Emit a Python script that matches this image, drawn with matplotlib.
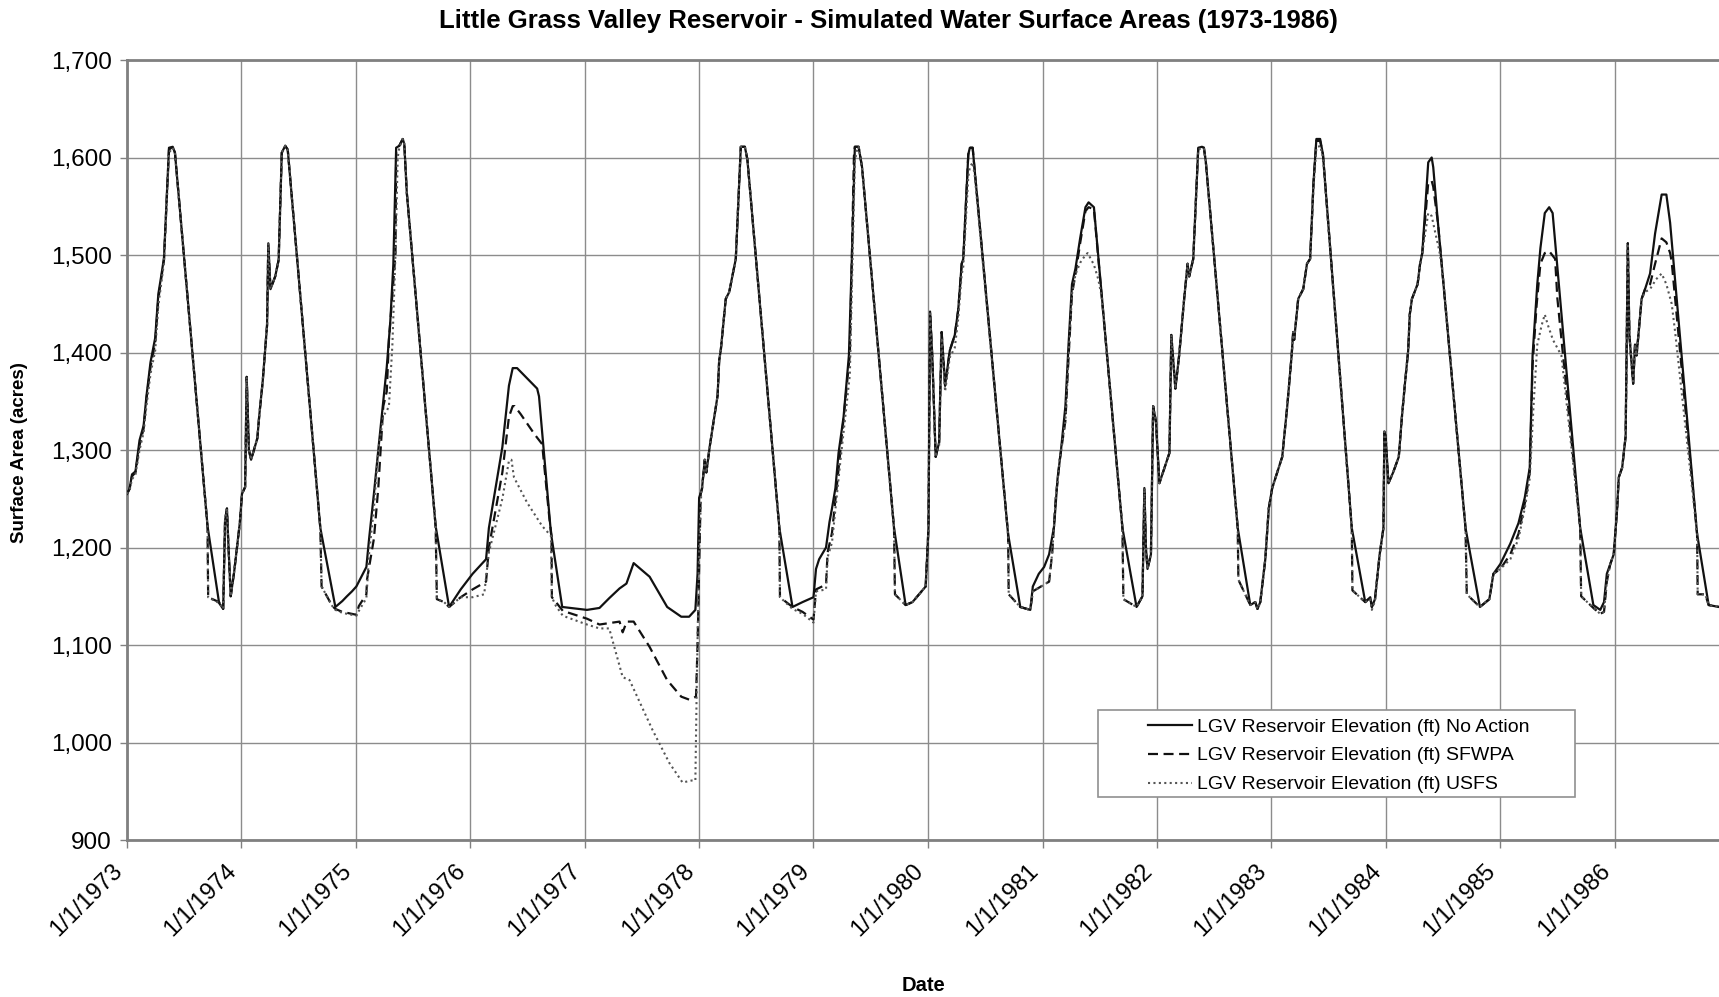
import matplotlib
matplotlib.use("Agg")
import matplotlib.pyplot as plt
from matplotlib.patches import Rectangle
from matplotlib.ticker import FuncFormatter
import pandas as pd

plt.rcParams['font.family'] = ['Liberation Sans', 'DejaVu Sans']

TITLE = "Little Grass Valley Reservoir - Simulated Water Surface Areas (1973-1986)"
Y_LABEL = "Surface Area (acres)"
X_LABEL = "Date"
SERIES_NAMES = ["LGV Reservoir Elevation (ft) No Action",
                "LGV Reservoir Elevation (ft) SFWPA",
                "LGV Reservoir Elevation (ft) USFS"]
YEARS = list(range(1973, 1987))
Y_TICKS = [900, 1000, 1100, 1200, 1300, 1400, 1500, 1600, 1700]

# ---------------- No Action ----------------
na_dates = [
    "1973-01-01", "1973-01-09", "1973-01-17", "1973-01-28", "1973-02-10", "1973-02-23", "1973-03-04",
    "1973-03-17", "1973-04-01", "1973-04-11", "1973-04-20", "1973-04-29", "1973-05-15", "1973-05-27",
    "1973-06-03", "1973-09-15", "1973-10-22", "1973-11-04", "1973-11-10", "1973-11-16", "1973-11-19",
    "1973-11-28", "1973-12-09", "1973-12-27",
    "1974-01-03", "1974-01-13", "1974-01-18", "1974-01-25", "1974-02-01", "1974-02-21", "1974-02-27",
    "1974-03-10", "1974-03-24", "1974-03-28", "1974-04-04", "1974-04-19", "1974-04-30", "1974-05-10",
    "1974-05-21", "1974-05-29", "1974-09-10", "1974-10-28", "1974-11-19", "1974-12-04", "1974-12-20",
    "1975-01-03", "1975-01-11", "1975-02-04", "1975-02-13", "1975-02-28", "1975-03-14", "1975-03-30",
    "1975-04-10", "1975-04-21", "1975-05-01", "1975-05-10", "1975-05-20", "1975-05-31", "1975-06-05",
    "1975-06-13", "1975-09-13", "1975-10-26", "1975-12-02",
    "1976-01-09", "1976-02-21", "1976-03-01", "1976-04-13", "1976-05-04", "1976-05-16", "1976-05-30",
    "1976-08-02", "1976-08-08", "1976-09-15", "1976-10-21",
    "1977-01-08", "1977-02-17", "1977-03-20", "1977-04-22", "1977-05-14", "1977-06-06", "1977-07-27",
    "1977-09-21", "1977-11-05", "1977-11-30", "1977-12-20", "1977-12-27",
    "1978-01-01", "1978-01-10", "1978-01-19", "1978-01-24", "1978-02-04", "1978-03-01", "1978-03-06",
    "1978-03-11", "1978-03-27", "1978-04-07", "1978-04-28", "1978-05-14", "1978-05-27", "1978-06-04",
    "1978-09-14", "1978-10-26", "1978-11-27",
    "1979-01-01", "1979-01-09", "1979-01-19", "1979-02-10", "1979-02-21", "1979-03-01", "1979-03-12",
    "1979-03-22", "1979-04-07", "1979-04-24", "1979-05-04", "1979-05-13", "1979-05-25", "1979-06-05",
    "1979-09-15", "1979-10-22", "1979-11-13", "1979-12-25",
    "1980-01-03", "1980-01-08", "1980-01-15", "1980-01-26", "1980-02-06", "1980-02-14", "1980-02-25",
    "1980-03-11", "1980-03-27", "1980-04-07", "1980-04-18", "1980-04-23", "1980-05-09", "1980-05-14",
    "1980-05-23", "1980-05-30", "1980-09-13", "1980-10-22", "1980-11-23", "1980-12-01", "1980-12-20",
    "1981-01-06", "1981-01-22", "1981-02-07", "1981-02-18", "1981-02-28", "1981-03-15", "1981-03-25",
    "1981-04-05", "1981-04-16", "1981-05-01", "1981-05-18", "1981-05-28", "1981-06-14", "1981-09-13",
    "1981-10-28", "1981-11-11", "1981-11-16", "1981-11-22", "1981-11-27", "1981-12-02", "1981-12-13",
    "1981-12-20", "1981-12-29",
    "1982-01-09", "1982-02-10", "1982-02-16", "1982-03-01", "1982-03-13", "1982-03-29", "1982-04-09",
    "1982-04-14", "1982-04-27", "1982-05-13", "1982-05-25", "1982-05-31", "1982-06-06", "1982-09-16",
    "1982-10-26", "1982-11-11", "1982-11-18", "1982-11-27", "1982-12-13", "1982-12-24",
    "1983-01-04", "1983-01-25", "1983-02-05", "1983-02-21", "1983-03-07", "1983-03-12", "1983-03-15",
    "1983-03-28", "1983-04-13", "1983-04-25", "1983-05-05", "1983-05-16", "1983-05-25", "1983-06-06",
    "1983-06-15", "1983-09-15", "1983-10-28", "1983-11-13", "1983-11-18", "1983-11-28", "1983-12-13",
    "1983-12-25", "1983-12-28",
    "1984-01-01", "1984-01-10", "1984-01-25", "1984-02-12", "1984-02-22", "1984-03-02", "1984-03-13",
    "1984-03-18", "1984-03-25", "1984-04-12", "1984-04-20", "1984-04-27", "1984-05-16", "1984-05-27",
    "1984-06-01", "1984-06-16", "1984-09-12", "1984-10-28", "1984-11-27", "1984-12-10",
    "1985-01-01", "1985-02-02", "1985-02-28", "1985-03-20", "1985-04-05", "1985-04-14", "1985-04-29",
    "1985-05-09", "1985-05-23", "1985-06-06", "1985-06-17", "1985-09-13", "1985-10-25", "1985-11-16",
    "1985-11-28", "1985-12-07", "1985-12-18", "1985-12-29",
    "1986-01-09", "1986-01-14", "1986-01-25", "1986-02-05", "1986-02-12", "1986-02-17", "1986-03-01",
    "1986-03-07", "1986-03-12", "1986-03-28", "1986-04-08", "1986-04-24", "1986-05-10", "1986-05-31",
    "1986-06-15", "1986-06-27", "1986-09-21", "1986-10-28", "1986-11-30",
]
na_vals = [
    1255, 1260, 1275, 1278, 1310, 1325, 1355,
    1390, 1415, 1460, 1478, 1497, 1610, 1611,
    1605, 1222, 1143, 1137, 1228, 1240, 1215,
    1150, 1175, 1225,
    1255, 1262, 1375, 1300, 1290, 1312, 1335,
    1370, 1428, 1512, 1465, 1478, 1495, 1605,
    1612, 1608, 1220, 1139, 1145, 1150, 1155,
    1160, 1165, 1180, 1210, 1255, 1300, 1350,
    1385, 1430, 1490, 1610, 1612, 1619, 1614,
    1564, 1222, 1139, 1157,
    1173, 1188, 1220, 1303, 1366, 1384, 1384,
    1363, 1355, 1215, 1139,
    1136, 1138, 1148, 1158, 1163, 1184, 1170,
    1139, 1129, 1129, 1136, 1173,
    1251, 1260, 1290, 1277, 1304, 1356, 1392,
    1402, 1455, 1462, 1496, 1611, 1611, 1598,
    1220, 1139, 1144,
    1149, 1178, 1188, 1200, 1226, 1240, 1261,
    1297, 1334, 1397, 1502, 1611, 1611, 1590,
    1220, 1141, 1144, 1160,
    1220, 1442, 1397, 1293, 1308, 1421, 1366,
    1402, 1418, 1444, 1491, 1496, 1603, 1610,
    1610, 1585, 1214, 1139, 1136, 1160, 1173,
    1180, 1193, 1222, 1271, 1297, 1345, 1408,
    1470, 1486, 1517, 1549, 1554, 1549, 1220,
    1139, 1147, 1150, 1261, 1200, 1178, 1193,
    1345, 1329,
    1266, 1297, 1418, 1363, 1397, 1455, 1491,
    1478, 1496, 1610, 1611, 1610, 1596, 1220,
    1141, 1144, 1137, 1144, 1188, 1240,
    1261, 1282, 1293, 1345, 1397, 1421, 1413,
    1455, 1465, 1491, 1496, 1575, 1619, 1619,
    1603, 1220, 1144, 1149, 1139, 1147, 1193,
    1220, 1319,
    1314, 1266, 1277, 1293, 1334, 1366, 1402,
    1439, 1455, 1470, 1491, 1502, 1595, 1600,
    1590, 1533, 1220, 1139, 1147, 1173,
    1183, 1204, 1225, 1251, 1282, 1397, 1470,
    1507, 1543, 1549, 1543, 1220, 1141, 1136,
    1144, 1173, 1183, 1193,
    1240, 1272, 1282, 1314, 1512, 1418, 1368,
    1408, 1397, 1455, 1465, 1481, 1522, 1562,
    1562, 1533, 1214, 1141, 1139,
]

# ---------------- SFWPA ----------------
sf_dates = [
    "1973-01-01", "1973-01-09", "1973-01-17", "1973-01-28", "1973-02-10", "1973-02-23", "1973-03-04",
    "1973-03-17", "1973-04-01", "1973-04-11", "1973-04-20", "1973-04-29", "1973-05-15", "1973-05-27",
    "1973-06-03", "1973-09-15", "1973-09-17", "1973-10-22", "1973-11-04", "1973-11-10", "1973-11-16",
    "1973-11-19", "1973-11-28", "1973-12-09", "1973-12-27",
    "1974-01-03", "1974-01-13", "1974-01-18", "1974-01-25", "1974-02-01", "1974-02-21", "1974-02-27",
    "1974-03-10", "1974-03-24", "1974-03-28", "1974-04-04", "1974-04-19", "1974-04-30", "1974-05-10",
    "1974-05-21", "1974-05-29", "1974-09-10", "1974-09-14", "1974-10-18", "1974-10-28", "1974-11-19",
    "1974-12-04",
    "1975-01-03", "1975-01-11", "1975-02-04", "1975-02-06", "1975-02-28", "1975-03-14", "1975-03-30",
    "1975-04-10", "1975-04-17", "1975-05-08", "1975-05-10", "1975-05-20", "1975-05-31", "1975-06-05",
    "1975-06-13", "1975-09-13", "1975-09-17", "1975-10-10", "1975-10-26", "1975-12-02",
    "1976-01-09", "1976-02-21", "1976-03-01", "1976-04-13", "1976-05-04", "1976-05-16", "1976-05-22",
    "1976-06-10", "1976-07-25", "1976-08-18", "1976-09-10", "1976-09-17", "1976-09-18", "1976-10-01",
    "1976-10-23",
    "1977-01-08", "1977-02-17", "1977-04-22", "1977-05-02", "1977-05-15", "1977-06-06", "1977-07-27",
    "1977-09-21", "1977-11-05", "1977-11-30", "1977-12-22", "1977-12-27",
    "1978-01-06", "1978-01-10", "1978-01-19", "1978-01-24", "1978-02-04", "1978-03-01", "1978-03-06",
    "1978-03-11", "1978-03-27", "1978-04-07", "1978-04-28", "1978-05-14", "1978-05-27", "1978-06-04",
    "1978-09-14", "1978-09-16", "1978-10-26", "1978-11-27",
    "1979-01-01", "1979-01-09", "1979-02-10", "1979-02-15", "1979-03-01", "1979-03-26", "1979-04-27",
    "1979-05-10", "1979-05-13", "1979-05-25", "1979-06-05", "1979-09-15", "1979-09-18", "1979-10-22",
    "1979-11-13", "1979-12-25",
    "1980-01-03", "1980-01-08", "1980-01-15", "1980-01-26", "1980-02-06", "1980-02-14", "1980-02-25",
    "1980-03-11", "1980-03-27", "1980-04-07", "1980-04-18", "1980-04-23", "1980-05-09", "1980-05-14",
    "1980-05-23", "1980-05-30", "1980-09-13", "1980-09-15", "1980-10-22", "1980-11-23", "1980-12-01",
    "1981-01-06", "1981-01-22", "1981-02-01", "1981-02-12", "1981-02-25", "1981-03-15", "1981-03-25",
    "1981-04-05", "1981-04-16", "1981-05-01", "1981-05-18", "1981-05-28", "1981-06-14", "1981-09-13",
    "1981-09-16", "1981-10-28", "1981-11-11", "1981-11-16", "1981-11-22", "1981-11-27", "1981-12-02",
    "1981-12-13", "1981-12-20", "1981-12-29",
    "1982-01-09", "1982-02-10", "1982-02-16", "1982-03-01", "1982-03-13", "1982-03-29", "1982-04-09",
    "1982-04-14", "1982-04-27", "1982-05-13", "1982-05-25", "1982-05-31", "1982-06-06", "1982-09-16",
    "1982-09-18", "1982-10-26", "1982-11-11", "1982-11-18", "1982-11-27", "1982-12-13", "1982-12-24",
    "1983-01-04", "1983-01-25", "1983-02-05", "1983-02-21", "1983-03-07", "1983-03-12", "1983-03-15",
    "1983-03-28", "1983-04-13", "1983-04-25", "1983-05-05", "1983-05-16", "1983-05-25", "1983-06-06",
    "1983-06-15", "1983-09-15", "1983-09-17", "1983-10-28", "1983-11-13", "1983-11-18", "1983-11-28",
    "1983-12-13", "1983-12-25", "1983-12-28",
    "1984-01-01", "1984-01-10", "1984-01-25", "1984-02-12", "1984-02-22", "1984-03-02", "1984-03-13",
    "1984-03-18", "1984-03-25", "1984-04-12", "1984-04-20", "1984-04-27", "1984-05-16", "1984-05-27",
    "1984-06-01", "1984-06-16", "1984-09-12", "1984-09-16", "1984-10-28", "1984-11-27", "1984-12-10",
    "1985-01-01", "1985-02-02", "1985-02-28", "1985-03-20", "1985-04-05", "1985-04-14", "1985-04-27",
    "1985-05-09", "1985-05-23", "1985-06-06", "1985-06-25", "1985-07-02", "1985-09-13", "1985-09-16",
    "1985-10-25", "1985-11-16", "1985-11-28", "1985-12-07", "1985-12-18", "1985-12-29",
    "1986-01-09", "1986-01-14", "1986-01-25", "1986-02-05", "1986-02-12", "1986-02-17", "1986-03-01",
    "1986-03-07", "1986-03-12", "1986-03-28", "1986-04-08", "1986-04-24", "1986-05-10", "1986-05-31",
    "1986-06-15", "1986-06-27", "1986-07-02", "1986-09-21", "1986-09-23", "1986-10-17", "1986-10-28",
    "1986-11-30",
]
sf_vals = [
    1255, 1260, 1273, 1277, 1305, 1322, 1352,
    1385, 1410, 1455, 1475, 1495, 1608, 1611,
    1605, 1222, 1149, 1144, 1137, 1228, 1240,
    1215, 1150, 1175, 1225,
    1255, 1262, 1375, 1300, 1290, 1312, 1335,
    1370, 1428, 1512, 1465, 1478, 1495, 1605,
    1612, 1608, 1220, 1160, 1140, 1137, 1134,
    1133,
    1131, 1140, 1152, 1167, 1209, 1261, 1345,
    1360, 1413, 1502, 1606, 1612, 1619, 1614,
    1564, 1222, 1147, 1144, 1139, 1149,
    1157, 1165, 1200, 1277, 1334, 1345, 1345,
    1337, 1316, 1306, 1230, 1212, 1149, 1144,
    1135,
    1127, 1121, 1124, 1113, 1124, 1124, 1098,
    1064, 1047, 1044, 1047, 1100,
    1255, 1260, 1290, 1277, 1304, 1356, 1392,
    1402, 1455, 1462, 1496, 1611, 1611, 1598,
    1220, 1149, 1139, 1134,
    1126, 1157, 1162, 1195, 1215, 1293, 1398,
    1601, 1611, 1611, 1590, 1220, 1152, 1141,
    1144, 1160,
    1220, 1442, 1397, 1293, 1308, 1421, 1366,
    1402, 1418, 1444, 1491, 1496, 1603, 1610,
    1610, 1585, 1214, 1152, 1139, 1136, 1155,
    1162, 1165, 1195, 1250, 1290, 1330, 1395,
    1460, 1480, 1512, 1545, 1549, 1547, 1220,
    1147, 1139, 1147, 1150, 1261, 1200, 1178,
    1193, 1345, 1329,
    1266, 1297, 1418, 1363, 1397, 1455, 1491,
    1478, 1496, 1610, 1611, 1610, 1596, 1220,
    1167, 1141, 1144, 1137, 1144, 1188, 1240,
    1261, 1282, 1293, 1345, 1397, 1421, 1413,
    1455, 1465, 1491, 1496, 1575, 1617, 1617,
    1603, 1220, 1156, 1144, 1149, 1139, 1147,
    1193, 1220, 1319,
    1314, 1266, 1277, 1293, 1334, 1366, 1402,
    1439, 1455, 1470, 1491, 1502, 1574, 1576,
    1570, 1533, 1220, 1152, 1139, 1147, 1173,
    1178, 1193, 1214, 1245, 1277, 1387, 1449,
    1491, 1502, 1504, 1496, 1456, 1220, 1150,
    1138, 1132, 1134, 1165, 1183, 1193,
    1240, 1272, 1282, 1314, 1512, 1418, 1368,
    1408, 1397, 1455, 1465, 1470, 1491, 1517,
    1513, 1502, 1493, 1214, 1152, 1152, 1141,
    1139,
]

# ---------------- USFS ----------------
us_dates = [
    "1973-01-01", "1973-01-09", "1973-01-17", "1973-01-28", "1973-02-10", "1973-02-23", "1973-03-04",
    "1973-03-17", "1973-04-01", "1973-04-11", "1973-04-20", "1973-04-29", "1973-05-15", "1973-05-27",
    "1973-06-03", "1973-09-15", "1973-09-17", "1973-10-22", "1973-11-04", "1973-11-10", "1973-11-16",
    "1973-11-19", "1973-11-28", "1973-12-09", "1973-12-27",
    "1974-01-03", "1974-01-13", "1974-01-18", "1974-01-25", "1974-02-01", "1974-02-21", "1974-02-27",
    "1974-03-10", "1974-03-24", "1974-03-28", "1974-04-04", "1974-04-19", "1974-04-30", "1974-05-10",
    "1974-05-21", "1974-05-29", "1974-09-10", "1974-09-14", "1974-10-18", "1974-10-28", "1974-11-19",
    "1974-12-04",
    "1975-01-03", "1975-01-11", "1975-02-04", "1975-02-13", "1975-02-28", "1975-03-14", "1975-03-30",
    "1975-04-10", "1975-04-17", "1975-04-28", "1975-05-08", "1975-05-15", "1975-05-20", "1975-05-31",
    "1975-06-05", "1975-06-13", "1975-09-13", "1975-09-17", "1975-10-10", "1975-10-26", "1975-12-02",
    "1976-01-09", "1976-02-15", "1976-03-01", "1976-04-13", "1976-05-04", "1976-05-12", "1976-05-20",
    "1976-07-01", "1976-08-18", "1976-09-15", "1976-09-18", "1976-10-01", "1976-10-23",
    "1977-01-08", "1977-02-17", "1977-03-20", "1977-05-02", "1977-05-24", "1977-08-05", "1977-09-28",
    "1977-11-09", "1977-12-08", "1977-12-20", "1977-12-24",
    "1978-01-01", "1978-01-08", "1978-01-10", "1978-01-19", "1978-01-24", "1978-02-04", "1978-03-01",
    "1978-03-06", "1978-03-11", "1978-03-27", "1978-04-07", "1978-04-28", "1978-05-14", "1978-05-27",
    "1978-06-04", "1978-09-14", "1978-09-16", "1978-10-26", "1978-11-27",
    "1979-01-01", "1979-01-09", "1979-02-10", "1979-02-15", "1979-03-01", "1979-03-26", "1979-04-27",
    "1979-05-13", "1979-05-20", "1979-05-25", "1979-06-05", "1979-09-15", "1979-09-18", "1979-10-22",
    "1979-11-13", "1979-12-25",
    "1980-01-03", "1980-01-08", "1980-01-15", "1980-01-26", "1980-02-06", "1980-02-14", "1980-02-25",
    "1980-03-11", "1980-03-27", "1980-04-07", "1980-04-18", "1980-04-23", "1980-05-09", "1980-05-14",
    "1980-05-23", "1980-05-30", "1980-09-13", "1980-09-15", "1980-10-22", "1980-11-23", "1980-12-01",
    "1981-01-06", "1981-01-22", "1981-02-01", "1981-02-12", "1981-02-25", "1981-03-15", "1981-03-25",
    "1981-04-05", "1981-04-16", "1981-05-01", "1981-05-18", "1981-05-25", "1981-06-14", "1981-06-28",
    "1981-07-10", "1981-09-13", "1981-09-16", "1981-10-28", "1981-11-11", "1981-11-16", "1981-11-22",
    "1981-11-27", "1981-12-02", "1981-12-13", "1981-12-20", "1981-12-29",
    "1982-01-09", "1982-02-10", "1982-02-16", "1982-03-01", "1982-03-13", "1982-03-29", "1982-04-09",
    "1982-04-14", "1982-04-27", "1982-05-13", "1982-05-25", "1982-05-31", "1982-06-06", "1982-09-16",
    "1982-09-18", "1982-10-26", "1982-11-11", "1982-11-18", "1982-11-27", "1982-12-13", "1982-12-24",
    "1983-01-04", "1983-01-25", "1983-02-05", "1983-02-21", "1983-03-07", "1983-03-12", "1983-03-15",
    "1983-03-28", "1983-04-13", "1983-04-25", "1983-05-05", "1983-05-16", "1983-05-25", "1983-06-06",
    "1983-06-15", "1983-09-15", "1983-09-17", "1983-10-28", "1983-11-13", "1983-11-18", "1983-11-28",
    "1983-12-13", "1983-12-25", "1983-12-28",
    "1984-01-01", "1984-01-10", "1984-01-25", "1984-02-12", "1984-02-22", "1984-03-02", "1984-03-13",
    "1984-03-18", "1984-03-25", "1984-04-12", "1984-04-20", "1984-04-27", "1984-05-10", "1984-05-16",
    "1984-05-27", "1984-06-08", "1984-06-20", "1984-06-30", "1984-09-12", "1984-09-16", "1984-10-28",
    "1984-11-27", "1984-12-10",
    "1985-01-01", "1985-02-02", "1985-02-28", "1985-03-20", "1985-04-05", "1985-04-17", "1985-04-29",
    "1985-05-13", "1985-05-23", "1985-06-02", "1985-06-18", "1985-07-15", "1985-09-13", "1985-09-16",
    "1985-10-25", "1985-11-16", "1985-11-28", "1985-12-07", "1985-12-18", "1985-12-29",
    "1986-01-09", "1986-01-14", "1986-01-25", "1986-02-05", "1986-02-12", "1986-02-17", "1986-03-01",
    "1986-03-07", "1986-03-12", "1986-03-28", "1986-04-08", "1986-04-24", "1986-05-13", "1986-05-31",
    "1986-06-15", "1986-07-02", "1986-07-13", "1986-09-21", "1986-09-23", "1986-10-17", "1986-10-28",
    "1986-11-30",
]
us_vals = [
    1255, 1258, 1270, 1275, 1300, 1318, 1345,
    1378, 1402, 1448, 1470, 1492, 1605, 1610,
    1604, 1222, 1149, 1143, 1137, 1228, 1240,
    1215, 1150, 1175, 1225,
    1255, 1262, 1375, 1300, 1290, 1312, 1335,
    1370, 1428, 1512, 1465, 1478, 1495, 1605,
    1612, 1608, 1220, 1160, 1140, 1136, 1133,
    1132,
    1130, 1135, 1148, 1195, 1240, 1300, 1335,
    1340, 1345, 1408, 1502, 1600, 1610, 1619,
    1614, 1564, 1222, 1147, 1144, 1139, 1149,
    1149, 1152, 1195, 1250, 1289, 1290, 1272,
    1246, 1222, 1212, 1149, 1140, 1130,
    1121, 1117, 1117, 1067, 1064, 1013, 979,
    959, 961, 961, 1050,
    1200, 1258, 1260, 1290, 1277, 1304, 1356,
    1392, 1402, 1455, 1462, 1496, 1611, 1611,
    1598, 1220, 1149, 1137, 1132,
    1123, 1155, 1157, 1190, 1205, 1283, 1377,
    1596, 1608, 1611, 1590, 1220, 1152, 1141,
    1144, 1160,
    1220, 1440, 1395, 1293, 1305, 1415, 1360,
    1395, 1405, 1435, 1480, 1488, 1580, 1590,
    1595, 1580, 1214, 1152, 1139, 1136, 1155,
    1162, 1165, 1195, 1250, 1290, 1330, 1395,
    1460, 1480, 1492, 1500, 1502, 1490, 1475,
    1455, 1220, 1147, 1139, 1147, 1150, 1261,
    1200, 1178, 1193, 1345, 1329,
    1266, 1297, 1418, 1363, 1397, 1455, 1491,
    1478, 1496, 1608, 1610, 1609, 1596, 1220,
    1167, 1141, 1144, 1137, 1144, 1188, 1240,
    1261, 1282, 1293, 1345, 1397, 1421, 1413,
    1455, 1465, 1491, 1496, 1570, 1610, 1612,
    1600, 1220, 1156, 1144, 1147, 1136, 1145,
    1193, 1220, 1319,
    1314, 1266, 1277, 1293, 1334, 1366, 1402,
    1439, 1455, 1470, 1491, 1502, 1530, 1543,
    1540, 1522, 1505, 1485, 1220, 1152, 1139,
    1147, 1173,
    1178, 1188, 1209, 1240, 1271, 1345, 1408,
    1428, 1439, 1428, 1413, 1397, 1220, 1150,
    1138, 1132, 1134, 1165, 1183, 1193,
    1240, 1272, 1282, 1314, 1512, 1418, 1368,
    1408, 1397, 1455, 1462, 1465, 1475, 1481,
    1470, 1450, 1421, 1214, 1152, 1152, 1141,
    1139,
]

X_START = "1973-01-01"
X_END = "1986-11-30"

# ---------------- figure ----------------
W, H = 1719, 997
fig = plt.figure(figsize=(W / 100, H / 100), dpi=100)
ax = fig.add_axes([127 / W, 1 - 840 / H, (W - 127) / W, 780 / H])

ax.plot(pd.to_datetime(na_dates), na_vals, color="#111111", lw=1.6,
        solid_joinstyle="round", label=SERIES_NAMES[0], zorder=3)
ax.plot(pd.to_datetime(sf_dates), sf_vals, color="#111111", lw=1.6,
        dashes=(4.5, 2.5), label=SERIES_NAMES[1], zorder=3)
ax.plot(pd.to_datetime(us_dates), us_vals, color="#555555", lw=1.5,
        dashes=(1.0, 1.6), label=SERIES_NAMES[2], zorder=3)

ax.set_xlim(pd.Timestamp(X_START), pd.Timestamp(X_END))
ax.set_ylim(Y_TICKS[0], Y_TICKS[-1])
ax.set_yticks(Y_TICKS)
ax.yaxis.set_major_formatter(FuncFormatter(lambda v, p: f"{int(v):,}"))
ax.set_xticks([pd.Timestamp(f"{y}-01-01") for y in YEARS])
ax.set_xticklabels([f"1/1/{y}" for y in YEARS], rotation=45, ha="right", va="top")

ax.grid(True, color="#8c8c8c", lw=1.0, zorder=0)
ax.set_axisbelow(True)
for side in ["left", "bottom", "top"]:
    ax.spines[side].set_color("#808080")
    ax.spines[side].set_linewidth(2.0)
ax.spines["right"].set_visible(False)

ax.tick_params(axis="y", length=5, width=1, color="#808080", labelsize=17.5, pad=6)
ax.tick_params(axis="x", length=6, width=1, color="#808080", labelsize=17, pad=8)

fig.text(888 / W, 1 - 21 / H, TITLE, ha="center", va="center",
         fontsize=18.5, fontweight="bold")
fig.text(20 / W, 1 - 453 / H, Y_LABEL, ha="center", va="center",
         rotation=90, fontsize=13.5, fontweight="bold")
fig.text(923 / W, 1 - 985 / H, X_LABEL, ha="center", va="center",
         fontsize=14.5, fontweight="bold")

# legend box
box = Rectangle((1098 / W, 1 - 797 / H), (1575 - 1098) / W, (797 - 710) / H,
                transform=fig.transFigure, facecolor="white", edgecolor="#909090",
                lw=1.2, zorder=5)
fig.add_artist(box)
leg = fig.legend(loc="upper left", bbox_to_anchor=(1148 / W, 1 - 718 / H),
                 frameon=False, fontsize=14, handlelength=2.25, handletextpad=0.25,
                 labelspacing=0.58, borderpad=0.0, borderaxespad=0.0)
leg.set_zorder(6)

fig.savefig("out.png", dpi=100)
